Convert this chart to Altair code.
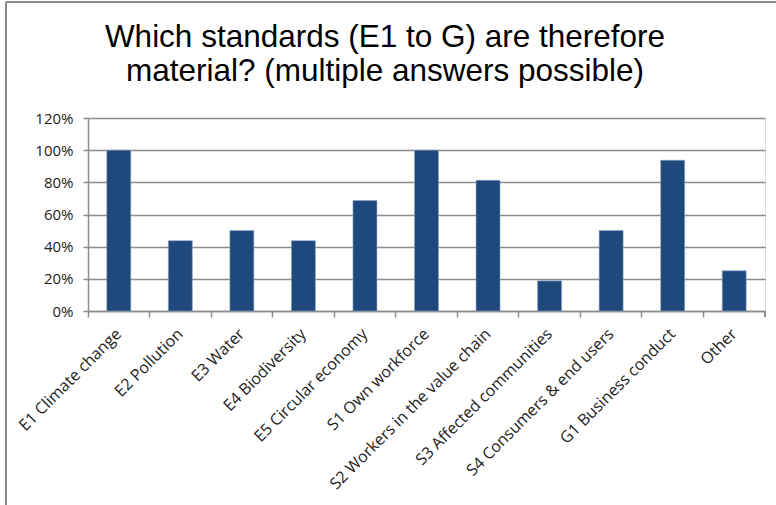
import altair as alt
import pandas as pd

categories = [
    "E1 Climate change", "E2 Pollution", "E3 Water", "E4 Biodiversity",
    "E5 Circular economy", "S1 Own workforce", "S2 Workers in the value chain",
    "S3 Affected communities", "S4 Consumers & end users",
    "G1 Business conduct", "Other",
]
shares = [1.0, 0.4375, 0.50, 0.4375, 0.6875, 1.0, 0.8125, 0.1875, 0.50, 0.9375, 0.25]
y_ticks = [0, 0.2, 0.4, 0.6, 0.8, 1.0, 1.2]
title_lines = ["Which standards (E1 to G) are therefore", "material? (multiple answers possible)"]

df = pd.DataFrame({"standard": categories, "share": shares})
title_df = pd.DataFrame({"line": title_lines, "row": [0, 1]})

W, H = 677, 193
PAD_L, PAD_T = 88, 118
TITLE_FONT = "Liberation Sans"
AXIS_FONT = "Open Sans"
GRID = "#8c8c8c"

x_scale = alt.Scale(domain=categories, paddingInner=0, paddingOuter=0)
y_scale = alt.Scale(domain=[0, 1.2], nice=False)

bars = alt.Chart(df).mark_bar(
    width={"band": 0.39}, color="#1F497D", stroke="#8fa6c4", strokeWidth=0.6
).encode(
    x=alt.X("standard:N", scale=x_scale, sort=categories, title=None,
            axis=alt.Axis(orient="bottom", labelAngle=-45, labelAlign="right",
                          labelBaseline="middle", labelFont=AXIS_FONT, labelFontSize=16,
                          labelColor="#222", labelPadding=20, ticks=False, domain=False,
                          grid=False, labelLimit=400)),
    y=alt.Y("share:Q", scale=y_scale, title=None,
            axis=alt.Axis(values=y_ticks, format=".0%", labelFont=AXIS_FONT, labelFontSize=15,
                          labelColor="#222", labelPadding=10, tickSize=5, tickColor=GRID,
                          tickWidth=1.5, domainColor=GRID, domainWidth=1.5,
                          gridColor=GRID, gridWidth=1.5, grid=True)),
)

# Category boundary ticks and baseline
boundaries = alt.Chart(df).mark_bar(opacity=0).encode(
    x=alt.X("standard:N", scale=x_scale, sort=categories, title=None,
            axis=alt.Axis(orient="bottom", bandPosition=0, labels=False, tickSize=6,
                          tickColor=GRID, tickWidth=1.5, domainColor=GRID, domainWidth=1.5,
                          grid=False)),
)

end_tick = alt.Chart(df).mark_rule(color=GRID, strokeWidth=1.5).encode(
    x=alt.value(W), y=alt.value(H), y2=alt.value(H + 6)
)

# Outer chart frame (left and top edges)
frame_left = alt.Chart(df).mark_rule(color="#8c8c8c", strokeWidth=1.5).encode(
    x=alt.value(6 - PAD_L), y=alt.value(2 - PAD_T), y2=alt.value(H + 200)
)
frame_top = alt.Chart(df).mark_rule(color="#8c8c8c", strokeWidth=1.5).encode(
    x=alt.value(6 - PAD_L), x2=alt.value(W + 200), y=alt.value(2 - PAD_T)
)

title = alt.Chart(title_df).mark_text(
    font=TITLE_FONT, fontSize=31.5, color="#000", align="center", baseline="alphabetic"
).encode(
    text="line:N",
    x=alt.value(385 - PAD_L),
    y=alt.Y("row:Q", scale=alt.Scale(domain=[0, 1], range=[47 - PAD_T, 81 - PAD_T]), axis=None),
)

chart = alt.layer(boundaries, bars, end_tick, frame_left, frame_top, title).resolve_axis(
    x="independent"
).resolve_scale(y="independent").properties(
    width=W, height=H,
    autosize=alt.AutoSizeParams(type="none"),
    padding={"left": PAD_L, "top": PAD_T, "right": 776 - PAD_L - W, "bottom": 505 - PAD_T - H},
).configure_view(stroke=None).configure(background="white")

chart.save("out.html", embed_options={"renderer": "svg", "actions": False})
